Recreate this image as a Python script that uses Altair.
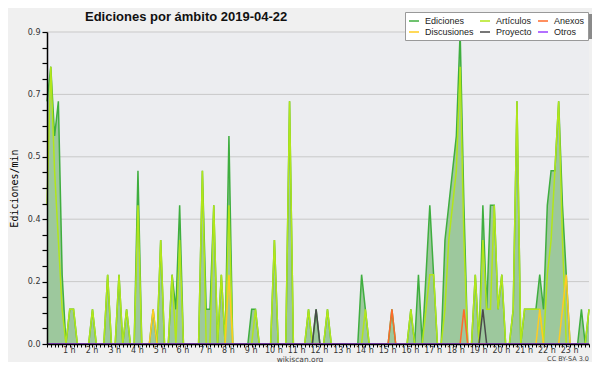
import altair as alt
import pandas as pd

# ---------------- data (10-minute bins, edits per minute) ----------------
SERIES = ["Ediciones", "Artículos", "Anexos", "Discusiones", "Proyecto", "Otros"]
COLORS = ["#3fae3f", "#b2e61a", "#ff6a2a", "#ffcc22", "#4a4a4a", "#9a40ff"]

ediciones = [
    0.7, 0.8, 0.6, 0.7, 0.2, 0, 0.1, 0.1, 0, 0, 0, 0,          # 0h-2h
    0.1, 0, 0, 0, 0.2, 0, 0, 0.2, 0, 0.1, 0, 0,                # 2h-4h
    0.5, 0, 0, 0, 0.1, 0, 0.3, 0, 0, 0.2, 0.1, 0.4,            # 4h-6h
    0, 0, 0, 0, 0, 0.5, 0.1, 0.1, 0.4, 0, 0.2, 0,              # 6h-8h
    0.6, 0, 0, 0, 0, 0, 0.1, 0.1, 0, 0, 0, 0,                  # 8h-10h
    0.3, 0, 0, 0, 0.7, 0, 0, 0, 0, 0.1, 0, 0.1,                # 10h-12h
    0, 0, 0.1, 0, 0, 0, 0, 0, 0, 0, 0, 0.2,                    # 12h-14h
    0.1, 0, 0, 0, 0, 0, 0, 0.1, 0, 0, 0, 0,                    # 14h-16h
    0.1, 0, 0.2, 0, 0.2, 0.4, 0.2, 0, 0, 0.3, 0.4, 0.5,        # 16h-18h
    0.6, 0.9, 0.4, 0, 0, 0.2, 0, 0.4, 0.1, 0.4, 0.4, 0.1,      # 18h-20h
    0.2, 0, 0, 0.1, 0.7, 0, 0.1, 0.1, 0.1, 0.1, 0.2, 0.1,      # 20h-22h
    0.4, 0.5, 0.5, 0.7, 0.4, 0.2, 0, 0, 0, 0.1, 0, 0.1,        # 22h-24h
]
articulos = [
    0.4, 0.8, 0.5, 0.3, 0.1, 0, 0.1, 0.1, 0, 0, 0, 0,
    0.1, 0, 0, 0, 0.2, 0, 0, 0.2, 0, 0.1, 0, 0,
    0.4, 0, 0, 0, 0, 0, 0.3, 0, 0, 0.2, 0, 0.3,
    0, 0, 0, 0, 0, 0.5, 0, 0, 0.4, 0, 0.2, 0,
    0.4, 0, 0, 0, 0, 0, 0, 0.1, 0, 0, 0, 0,
    0.3, 0, 0, 0, 0.7, 0, 0, 0, 0, 0.1, 0, 0,
    0, 0, 0.1, 0, 0, 0, 0, 0, 0, 0, 0, 0,
    0.1, 0, 0, 0, 0, 0, 0, 0, 0, 0, 0, 0,
    0.1, 0, 0, 0, 0.1, 0.2, 0.2, 0, 0, 0.1, 0.3, 0.4,
    0.5, 0.8, 0.3, 0, 0, 0.2, 0, 0.3, 0.1, 0.1, 0.4, 0.1,
    0.2, 0, 0, 0.1, 0.7, 0, 0.1, 0.1, 0.1, 0.1, 0.1, 0,
    0.2, 0.3, 0.5, 0.7, 0.3, 0, 0, 0, 0, 0, 0, 0.1,
]
# sparse series: {bin index: value}
anexos = {91: 0.1, 110: 0.1}
discusiones = {28: 0.1, 48: 0.2, 130: 0.1, 136: 0.1, 137: 0.2}
proyecto = {71: 0.1, 115: 0.1}
otros = {}

Y_GRID = [0.18, 0.36, 0.54, 0.72, 0.9]
Y_TICKS = [0, 0.045, 0.09, 0.135, 0.18, 0.225, 0.27, 0.315, 0.36, 0.405, 0.45,
           0.495, 0.54, 0.585, 0.63, 0.675, 0.72, 0.765, 0.81, 0.855, 0.9]

N = len(ediciones)
rows = []
for name, vals in [("Ediciones", ediciones), ("Artículos", articulos)]:
    for i, v in enumerate(vals):
        rows.append({"bin": i, "value": v, "series": name})
for name, sp in [("Anexos", anexos), ("Discusiones", discusiones),
                 ("Proyecto", proyecto), ("Otros", otros)]:
    for i in range(N):
        rows.append({"bin": i, "value": sp.get(i, 0), "series": name})
df = pd.DataFrame(rows)

W, H = 542, 312
xscale = alt.Scale(domain=[0, N - 1], nice=False, zero=False)
yscale = alt.Scale(domain=[0, 0.9], nice=False)

xaxis = alt.Axis(
    values=list(range(N)),
    labelExpr="datum.value % 6 == 0 && datum.value > 0 ? (datum.value / 6) + ' h' : ''",
    title=None, tickSize=3, tickColor="black", tickWidth=1,
    domainColor="black", domainWidth=1.5, labelFont="DejaVu Sans",
    labelFontSize=8, labelColor="#333", labelPadding=-1, labelOverlap=False,
    labelFlush=False, labelBound=False, labelAngle=0, labelOffset=-1,
    grid=False, zindex=1,
)
yaxis = alt.Axis(
    values=Y_TICKS,
    labelExpr="round(datum.value / 0.045) % 4 == 0 ? format(datum.value, '.1f') : ''",
    title="Ediciones/min", titleFont="DejaVu Sans Mono", titleFontSize=10,
    titleFontWeight="normal", titleColor="black", titleX=-33, titleY=H / 2,
    titleAngle=270, titleBaseline="middle", titleAlign="center",
    tickSize=5, tickColor="black", tickWidth=1.2, domainColor="black",
    domainWidth=1.5, labelFont="DejaVu Sans", labelFontSize=8,
    labelColor="#333", labelPadding=2, labelOverlap=False, grid=False, zindex=1,
)

X = alt.X("bin:Q", scale=xscale, axis=xaxis)
Y = alt.Y("value:Q", scale=yscale, axis=yaxis)

legend = alt.Legend(
    orient="none", legendX=358, legendY=-20, direction="horizontal", columns=3,
    title=None, symbolType="stroke", symbolStrokeWidth=1.5, symbolSize=100,
    labelFont="Liberation Sans", labelFontSize=9, labelColor="#222",
    fillColor="white", strokeColor="#999", padding=3, rowPadding=0,
    columnPadding=3, labelOffset=5,
)
color = alt.Color("series:N", scale=alt.Scale(domain=SERIES, range=COLORS), legend=legend)

grid = alt.Chart(pd.DataFrame({"g": Y_GRID})).mark_rule(color="#c9c9c9", strokeWidth=1).encode(
    y=alt.Y("g:Q", scale=yscale, axis=yaxis)
)

area = alt.Chart(df).transform_filter(alt.datum.series == "Ediciones").mark_area(
    color="#9dc89d", opacity=1
).encode(x=X, y=Y)

lines = []
for s in ["Ediciones", "Artículos", "Discusiones", "Anexos", "Proyecto", "Otros"]:
    lines.append(
        alt.Chart(df).transform_filter(alt.datum.series == s)
        .mark_line(strokeWidth=1.5)
        .encode(x=X, y=Y, color=color)
    )

one = pd.DataFrame({"a": [0]})
shadow = alt.Chart(one).mark_rect(color="#8a8a8a").encode(
    x=alt.value(361), x2=alt.value(546), y=alt.value(-18), y2=alt.value(7)
)
title = alt.Chart(one).mark_text(
    text="Ediciones por ámbito  2019-04-22", font="Liberation Sans", fontSize=13,
    fontWeight="bold", color="#111", align="left", baseline="alphabetic"
).encode(x=alt.value(38), y=alt.value(-11))
site = alt.Chart(one).mark_text(
    text="wikiscan.org", font="DejaVu Sans", fontSize=7.5, color="#444",
    align="center", baseline="alphabetic"
).encode(x=alt.value(253), y=alt.value(329.5))
lic = alt.Chart(one).mark_text(
    text="CC BY-SA 3.0", font="DejaVu Sans", fontSize=6.5, color="#444",
    align="right", baseline="alphabetic"
).encode(x=alt.value(542), y=alt.value(329))

chart = alt.layer(grid, area, *lines, shadow, title, site, lic).properties(
    width=W, height=H,
    autosize=alt.AutoSizeParams(type="none"),
    padding={"left": 39, "top": 24, "right": 3, "bottom": 18},
    background="#f0f0f0",
).configure_view(fill="#ecedf0", stroke=None)

chart.save("out.html", embed_options={"renderer": "svg", "actions": False})
